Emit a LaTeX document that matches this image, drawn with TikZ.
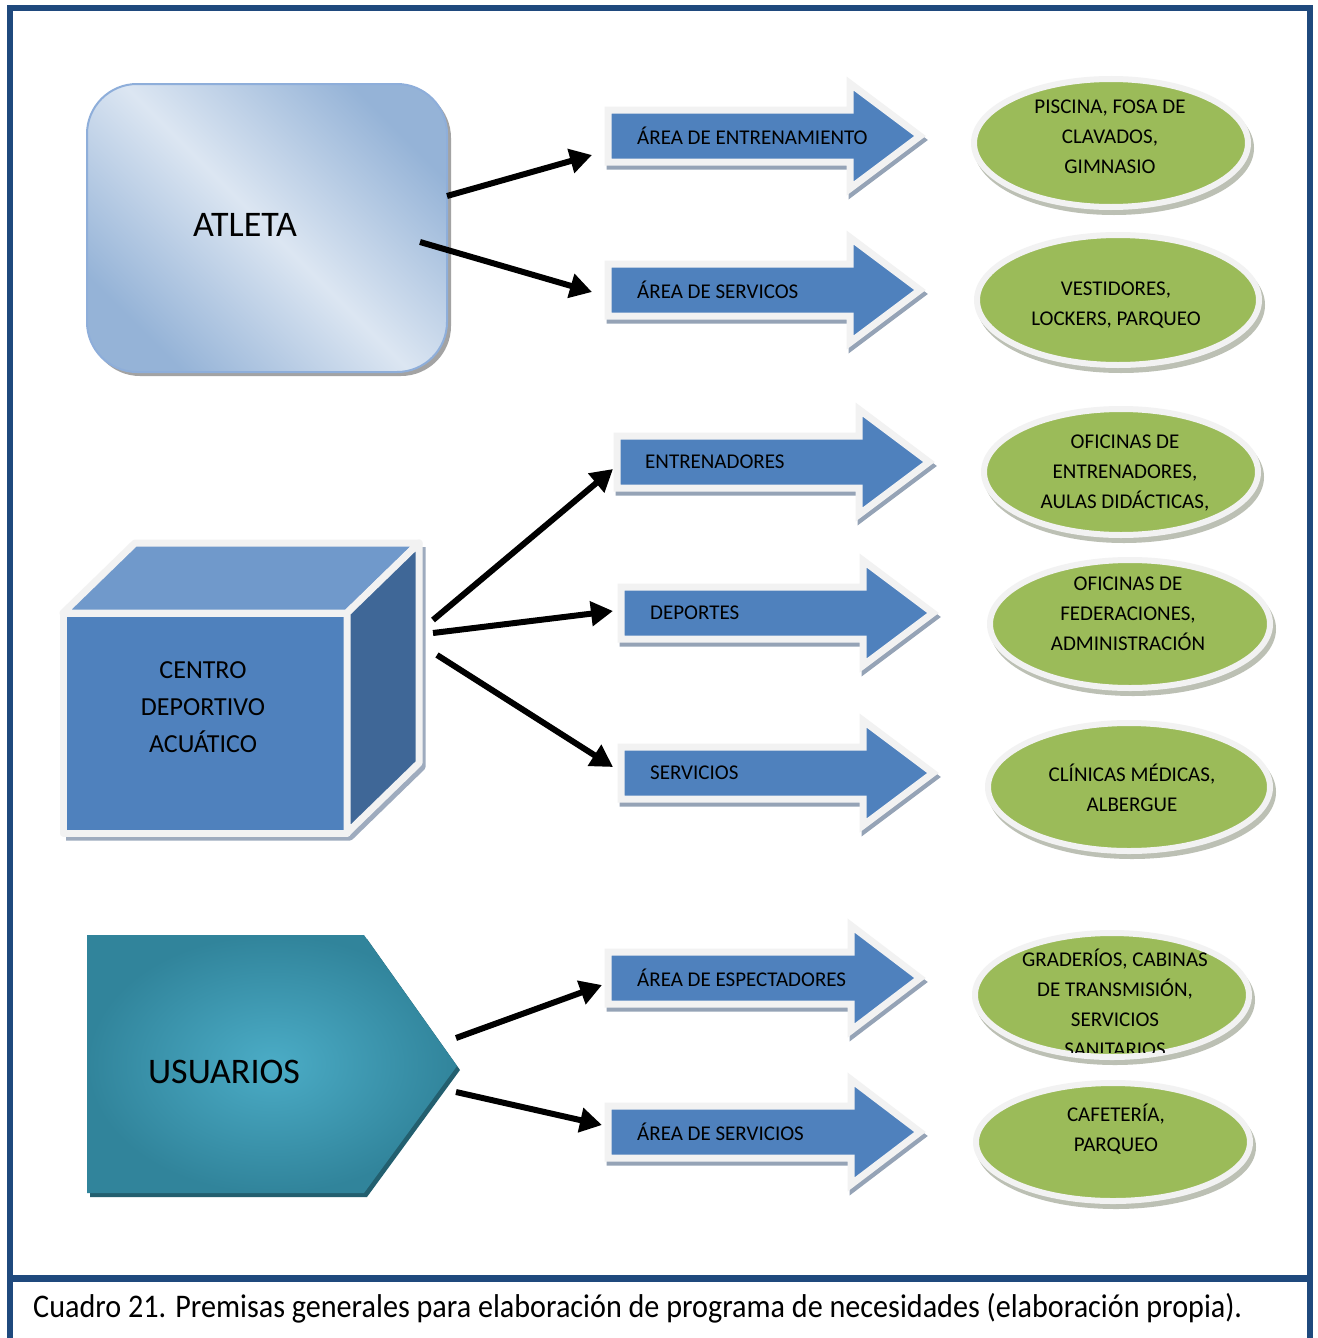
\documentclass[tikz,border=0pt]{standalone}
\usepackage{fontspec}
\usepackage{graphicx}
\setmainfont{Carlito}
\usetikzlibrary{arrows.meta}
\definecolor{frameblue}{HTML}{1F497D}
\definecolor{arrblue}{HTML}{4F81BD}
\definecolor{outl}{HTML}{F2F2F2}
\definecolor{arrshad}{HTML}{95A3B6}
\definecolor{ellgreen}{HTML}{9BBB59}
\definecolor{ellshad}{HTML}{BCC0B4}
\definecolor{cubetop}{HTML}{7099CB}
\definecolor{cuberight}{HTML}{3F6797}
\definecolor{cubeshad}{HTML}{9EABBE}
\definecolor{usin}{HTML}{4BACC6}
\definecolor{usout}{HTML}{31849B}
\definecolor{usshad}{HTML}{235F6F}
\definecolor{atlight}{HTML}{DCE6F2}
\definecolor{atdark}{HTML}{95B3D7}
\definecolor{atborder}{HTML}{8EAEDA}
\definecolor{atshad}{HTML}{A3A3A3}
\tikzset{
  arrbody/.style={fill=arrblue, draw=outl, line width=7pt, line join=miter},
  arrshadow/.style={fill=arrshad, draw=arrshad, line width=7pt, line join=miter},
  ellbody/.style={fill=ellgreen, draw=outl, line width=6pt},
  ellshadow/.style={fill=ellshad, draw=ellshad, line width=6pt},
  arrtext/.style={anchor=west, inner sep=0pt, font=\fontsize{21}{25}\selectfont, text=black},
  elltext/.style={align=center, font=\fontsize{21}{30}\selectfont, text=black},
  bigtext/.style={font=\fontsize{36}{40}\selectfont, text=black},
  conn/.style={line width=6pt, -{Triangle[length=22pt,width=24pt]}},
  cubeface/.style={draw=outl, line width=7pt, line join=round},
  framestyle/.style={draw=frameblue, line width=6pt}
}
% #1 left x, #2 centre y, #3 head base x, #4 tip x
\newcommand\arrshape[4]{(#1,#2-26) -- (#3,#2-26) -- (#3,#2-52.5) -- (#4,#2) -- (#3,#2+52.5) -- (#3,#2+26) -- (#1,#2+26) -- cycle}
\newcommand\blkarrow[4]{%
  \begin{scope}[shift={(2,4)}]\draw[arrshadow] \arrshape{#1}{#2}{#3}{#4};\end{scope}
  \draw[arrbody] \arrshape{#1}{#2}{#3}{#4};}
% #1 cx, #2 cy, #3 rx, #4 ry
\newcommand\greenell[4]{%
  \draw[ellshadow] (#1+3,#2+5) ellipse [x radius=#3, y radius=#4];
  \draw[ellbody] (#1,#2) ellipse [x radius=#3, y radius=#4];}
\begin{document}
\begin{tikzpicture}[x=1pt,y=-1pt]
\useasboundingbox (0,0) rectangle (1317,1338);
\fill[white] (0,0) rectangle (1317,1338);

% frame
\draw[framestyle] (10,1338) -- (10,8) -- (1310,8) -- (1310,1338);
\draw[draw=frameblue, line width=7pt] (10,1278) -- (1310,1278);
\node[anchor=base west, inner sep=0pt] (cap) at (33,1317)
  {\resizebox{1209pt}{\height}{\fontsize{33}{33}\selectfont Cuadro 21. Premisas generales para elaboración de programa de necesidades (elaboración propia).}};

% ATLETA
\fill[atshad, rounded corners=50pt] (90,88) rectangle (451,376);
\shade[top color=atdark, bottom color=atdark, middle color=atlight, shading angle=-45, rounded corners=50pt] (87,84) rectangle (447,372);
\draw[atborder, line width=2pt, rounded corners=50pt] (87,84) rectangle (447,372);
\node[bigtext] (atleta) at (245,225) {ATLETA};

% CUBE
\begin{scope}[shift={(3,4)}]
\fill[cubeshad] (135,543) -- (419,543) -- (419,763) -- (347,833) -- (63,833) -- (63,613) -- cycle;
\draw[cubeshad, line width=7pt, line join=round] (419,543) -- (419,763) -- (347,833) -- (63,833);
\end{scope}
\filldraw[cubeface, fill=arrblue] (63,613) rectangle (347,833);
\filldraw[cubeface, fill=cubetop] (63,613) -- (135,543) -- (419,543) -- (347,613) -- cycle;
\filldraw[cubeface, fill=cuberight] (347,613) -- (419,543) -- (419,763) -- (347,833) -- cycle;
\node[align=center, font=\fontsize{26}{37}\selectfont, text=black] (centro) at (203,707) {CENTRO\\DEPORTIVO\\ACUÁTICO};

% USUARIOS
\fill[usshad] (90,939) -- (367,939) -- (460,1070) -- (367,1197) -- (90,1197) -- cycle;
\shade[inner color=usin, outer color=usout] (87,935) -- (364,935) -- (457,1066) -- (364,1193) -- (87,1193) -- cycle;
\node[bigtext] (usuarios) at (224,1072) {USUARIOS};

% blue block arrows
\blkarrow{608}{136}{850}{920}
\blkarrow{608}{290}{850}{920}
\blkarrow{617}{462}{859}{929}
\blkarrow{621}{613}{863}{933}
\blkarrow{621}{773}{863}{933}
\blkarrow{608}{978}{851}{920}
\blkarrow{608}{1132}{851}{920}
\node[arrtext] (t1) at (637,136) {ÁREA DE ENTRENAMIENTO};
\node[arrtext] (t2) at (637,290) {ÁREA DE SERVICOS};
\node[arrtext] (t3) at (645,462) {ENTRENADORES};
\node[arrtext] (t4) at (650,613) {DEPORTES};
\node[arrtext] (t5) at (650,773) {SERVICIOS};
\node[arrtext] (t6) at (637,978) {ÁREA DE ESPECTADORES};
\node[arrtext] (t7) at (637,1132) {ÁREA DE SERVICIOS};

% green ellipses
\greenell{1111}{143}{137}{64}
\greenell{1118}{300}{141}{65}
\greenell{1121}{472}{137}{63}
\greenell{1130}{624}{140}{64}
\greenell{1129}{787}{141}{64}
\greenell{1112}{995}{137}{62}
\greenell{1113}{1142}{137}{59}
\node[elltext] (e1) at (1110,137) {PISCINA, FOSA DE\\CLAVADOS,\\GIMNASIO};
\node[elltext] (e2) at (1116,305) {VESTIDORES,\\LOCKERS, PARQUEO};
\node[elltext] (e3) at (1125,473) {OFICINAS DE\\ENTRENADORES,\\AULAS DIDÁCTICAS,};
\node[elltext] (e4) at (1128,614) {OFICINAS DE\\FEDERACIONES,\\ADMINISTRACIÓN};
\node[elltext] (e5) at (1132,788) {CLÍNICAS MÉDICAS,\\ALBERGUE};
\begin{scope}
\clip (960,900) rectangle (1300,1052);
\node[elltext] (e6) at (1115,1003) {GRADERÍOS, CABINAS\\DE TRANSMISIÓN,\\SERVICIOS\\SANITARIOS};
\end{scope}
\node[elltext] (e7) at (1116,1129) {CAFETERÍA,\\PARQUEO};

% connectors
\coordinate (a1s) at (447,196); \coordinate (a1e) at (592,155);
\coordinate (a2s) at (420,242); \coordinate (a2e) at (592,292);
\coordinate (a3s) at (433,620); \coordinate (a3e) at (613,469);
\coordinate (a4s) at (433,633); \coordinate (a4e) at (613,611);
\coordinate (a5s) at (437,655); \coordinate (a5e) at (613,767);
\coordinate (a6s) at (456,1038); \coordinate (a6e) at (602,985);
\coordinate (a7s) at (456,1092); \coordinate (a7e) at (602,1125);
\draw[conn] (a1s) -- (a1e);
\draw[conn] (a2s) -- (a2e);
\draw[conn] (a3s) -- (a3e);
\draw[conn] (a4s) -- (a4e);
\draw[conn] (a5s) -- (a5e);
\draw[conn] (a6s) -- (a6e);
\draw[conn] (a7s) -- (a7e);
\end{tikzpicture}
\end{document}
